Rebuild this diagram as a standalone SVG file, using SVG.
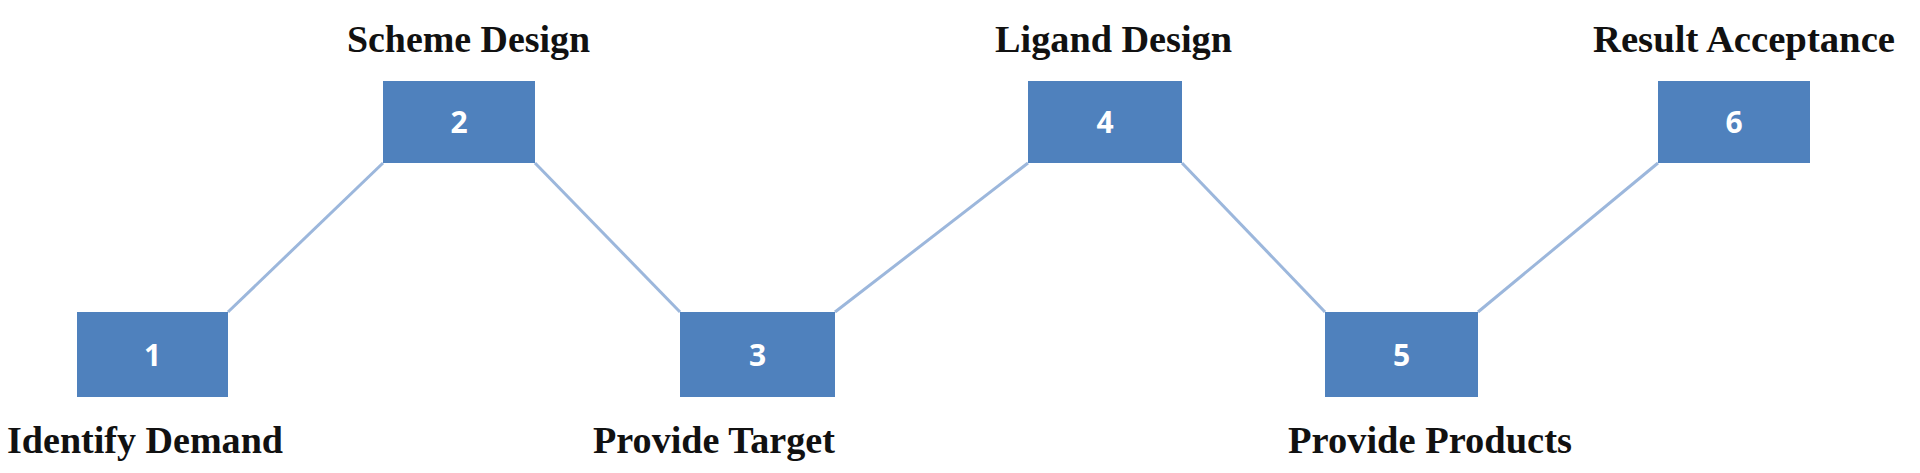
<svg xmlns="http://www.w3.org/2000/svg" width="1920" height="473" viewBox="0 0 1920 473">
<style>
.box{fill:#4f81bd;}
.num{font-family:"Open Sans","Liberation Sans",sans-serif;font-weight:bold;font-size:30px;fill:#ffffff;text-anchor:middle;}
.lbl{font-family:"Liberation Serif","Times New Roman",serif;font-weight:bold;font-size:38px;fill:#111111;}
.con{stroke:#9cb7dc;stroke-width:3;fill:none;}
</style>
<rect width="1920" height="473" fill="#ffffff"/>
<g id="connectors">
<line class="con" x1="228" y1="312" x2="383" y2="163"/>
<line class="con" x1="535" y1="163" x2="680" y2="312"/>
<line class="con" x1="835" y1="312" x2="1028" y2="163"/>
<line class="con" x1="1182" y1="163" x2="1325" y2="312"/>
<line class="con" x1="1478" y1="312" x2="1658" y2="163"/>
</g>
<g id="node1">
<rect class="box" x="77" y="312" width="151" height="85"/>
<text class="num" x="152.5" y="365.5">1</text>
<text class="lbl" x="7" y="453" textLength="276" lengthAdjust="spacingAndGlyphs">Identify Demand</text>
</g>
<g id="node2">
<rect class="box" x="383" y="81" width="152" height="82"/>
<text class="num" x="459" y="133">2</text>
<text class="lbl" x="347" y="52" textLength="243" lengthAdjust="spacingAndGlyphs">Scheme Design</text>
</g>
<g id="node3">
<rect class="box" x="680" y="312" width="155" height="85"/>
<text class="num" x="757.5" y="365.5">3</text>
<text class="lbl" x="593" y="453" textLength="242" lengthAdjust="spacingAndGlyphs">Provide Target</text>
</g>
<g id="node4">
<rect class="box" x="1028" y="81" width="154" height="82"/>
<text class="num" x="1105" y="133">4</text>
<text class="lbl" x="995" y="52" textLength="237" lengthAdjust="spacingAndGlyphs">Ligand Design</text>
</g>
<g id="node5">
<rect class="box" x="1325" y="312" width="153" height="85"/>
<text class="num" x="1401.5" y="365.5">5</text>
<text class="lbl" x="1288" y="453" textLength="284" lengthAdjust="spacingAndGlyphs">Provide Products</text>
</g>
<g id="node6">
<rect class="box" x="1658" y="81" width="152" height="82"/>
<text class="num" x="1734" y="133">6</text>
<text class="lbl" x="1593" y="52" textLength="302" lengthAdjust="spacingAndGlyphs">Result Acceptance</text>
</g>
</svg>
